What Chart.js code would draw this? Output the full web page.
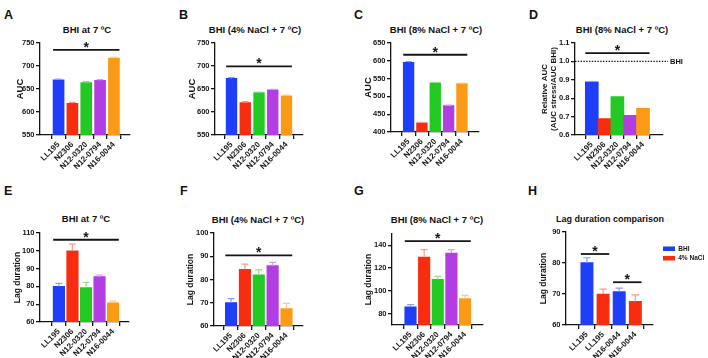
<!DOCTYPE html>
<html><head><meta charset="utf-8">
<script src="https://cdn.jsdelivr.net/npm/chart.js@4.4.1/dist/chart.umd.min.js"></script>
<style>
html,body{margin:0;padding:0;background:#fff;}
body{width:708px;height:358px;position:relative;overflow:hidden;font-family:'Liberation Sans',Arial,Helvetica,sans-serif;color:#111;}
canvas{position:absolute;}
.lt{position:absolute;font-weight:bold;font-size:12.5px;line-height:1;}
.tt{position:absolute;font-weight:bold;font-size:9.5px;line-height:1;white-space:nowrap;transform:translate(-50%,-50%);}
</style></head><body>
<div class="lt" style="left:4px;top:9px">A</div>
<div class="lt" style="left:179px;top:9px">B</div>
<div class="lt" style="left:354px;top:9px">C</div>
<div class="lt" style="left:529px;top:9px">D</div>
<div class="lt" style="left:4px;top:185px">E</div>
<div class="lt" style="left:180px;top:185px">F</div>
<div class="lt" style="left:354px;top:185px">G</div>
<div class="lt" style="left:528px;top:185px">H</div>
<div class="tt" style="left:87px;top:30px">BHI at 7 ºC</div>
<div class="tt" style="left:255px;top:30px">BHI (4% NaCl + 7 ºC)</div>
<div class="tt" style="left:436px;top:30px">BHI (8% NaCl + 7 ºC)</div>
<div class="tt" style="left:622px;top:30px">BHI (8% NaCl + 7 ºC)</div>
<div class="tt" style="left:86px;top:219px">BHI at 7 ºC</div>
<div class="tt" style="left:258px;top:220px">BHI (4% NaCl + 7 ºC)</div>
<div class="tt" style="left:437px;top:220px">BHI (8% NaCl + 7 ºC)</div>
<div class="tt" style="left:610px;top:219px;font-size:9px">Lag duration comparison</div>
<canvas id="cA"></canvas><canvas id="cB"></canvas><canvas id="cC"></canvas><canvas id="cD"></canvas>
<canvas id="cE"></canvas><canvas id="cF"></canvas><canvas id="cG"></canvas><canvas id="cH"></canvas>
<script>
// ---------------- data ----------------
const strains = ["LL195", "N2306", "N12-0320", "N12-0794", "N16-0044"];
const compCategories = ["LL195", "LL195", "N16-0044", "N16-0044"];

const aucBHI7 = [670, 619, 664, 669, 717];
const aucBHI7Err = [1.5, 2, 2, 1.5, 2];
const aucNaCl4 = [673, 620.5, 642, 648, 635];
const aucNaCl4Err = [2, 2, 1.2, 1.5, 1.5];
const aucNaCl8 = [596, 425.5, 538, 474, 536];
const aucNaCl8Err = [2, 1.5, 1.5, 1.5, 1.5];
const relAUC = [0.889, 0.689, 0.809, 0.707, 0.745];

const lagBHI7 = [80, 100, 79.4, 85.5, 70.8];
const lagBHI7Err = [1.7, 3.8, 2.8, 0.9, 0.9];
const lagNaCl4 = [70.1, 84.4, 82, 86, 67.5];
const lagNaCl4Err = [1.7, 2.2, 2.1, 1.4, 2.2];
const lagNaCl8 = [85.9, 129.8, 110.1, 133.3, 93.2];
const lagNaCl8Err = [2, 6.4, 2.7, 2.9, 2.9];

const compBHIIdx = [0, 2];
const compBHI = [80.1, 70.8];
const compBHIErr = [1.6, 1.1];
const compNaClIdx = [1, 3];
const compNaCl = [70.0, 67.6];
const compNaClErr = [1.6, 2.1];

const ticksAUC = [550, 600, 650, 700, 750];
const ticksAUC8 = [400, 450, 500, 550, 600, 650];
const ticksRel = [0.6, 0.7, 0.8, 0.9, 1.0, 1.1];
const ticksLagE = [60, 70, 80, 90, 100, 110];
const ticksLagF = [60, 70, 80, 90, 100];
const ticksLagG = [80, 100, 120, 140];
const ticksLagH = [60, 70, 80, 90];

// significance bars: [first bar index, last bar index, y value]
const sigA = [[0, 4, 735]];
const sigB = [[0, 4, 699]];
const sigC = [[0, 4, 617]];
const sigD = [[0, 4, 1.045]];
const sigE = [[0, 4, 106.2]];
const sigF = [[0, 4, 90.4]];
const sigG = [[0, 4, 143.8]];
const sigH = [[0, 1, 82.9], [2, 3, 73.8]];
const refLineD = 1.0;

// ---------------- styles ----------------
const FONT = "'Liberation Sans', Arial, Helvetica, sans-serif";
Chart.defaults.font.family = FONT;
Chart.defaults.color = '#111';
const INK = '#151515';
const strainColors = ['#1e3ef8', '#f82d0f', '#22c922', '#b23ee3', '#fb9a15'];
const strainErrColors = ['#8e9cfb', '#fb9a8c', '#8fe08f', '#d79df0', '#fccb8a'];

const errorBarsPlugin = {
  id: 'errorBars',
  afterDatasetsDraw(chart) {
    const ctx = chart.ctx, ys = chart.scales.y;
    chart.data.datasets.forEach((ds, di) => {
      if (!ds.errors) return;
      const meta = chart.getDatasetMeta(di);
      meta.data.forEach((bar, i) => {
        const v = ds.data[i].y, e = ds.errors[i];
        const base = ys.getPixelForValue(v), top = ys.getPixelForValue(v + e);
        const hw = bar.width * 0.3;
        const col = Array.isArray(ds.errColors) ? ds.errColors[i % ds.errColors.length] : ds.errColors;
        ctx.save();
        ctx.strokeStyle = col; ctx.lineWidth = 1.2;
        ctx.beginPath();
        ctx.moveTo(bar.x, base); ctx.lineTo(bar.x, top);
        ctx.moveTo(bar.x - hw, top); ctx.lineTo(bar.x + hw, top);
        ctx.stroke();
        ctx.restore();
      });
    });
  }
};

const sigPlugin = {
  id: 'sig',
  afterDraw(chart, args, opts) {
    const ctx = chart.ctx, ys = chart.scales.y, area = chart.chartArea;
    const byIdx = {};
    chart.data.datasets.forEach((ds, di) => {
      chart.getDatasetMeta(di).data.forEach((el, i) => { byIdx[ds.data[i].x] = el; });
    });
    if (opts.ref !== undefined && opts.ref !== null) {
      const y = ys.getPixelForValue(opts.ref);
      ctx.save();
      ctx.strokeStyle = INK; ctx.lineWidth = 1.1; ctx.setLineDash([1.4, 1.4]);
      ctx.beginPath(); ctx.moveTo(area.left, y); ctx.lineTo(area.right + 5, y); ctx.stroke();
      ctx.setLineDash([]);
      ctx.fillStyle = INK; ctx.font = 'bold 7.5px ' + FONT; ctx.textBaseline = 'middle'; ctx.textAlign = 'left';
      ctx.fillText(opts.refLabel, area.right + 7, y + 0.5);
      ctx.restore();
    }
    (opts.lines || []).forEach(([a, b, v]) => {
      const ea = byIdx[a], eb = byIdx[b];
      const x1 = ea.x - ea.width / 2, x2 = eb.x + eb.width / 2;
      const y = ys.getPixelForValue(v);
      ctx.save();
      ctx.strokeStyle = INK; ctx.lineWidth = 1.8;
      ctx.beginPath(); ctx.moveTo(x1, y); ctx.lineTo(x2, y); ctx.stroke();
      ctx.fillStyle = INK; ctx.font = 'bold 14px ' + FONT; ctx.textAlign = 'center'; ctx.textBaseline = 'alphabetic';
      ctx.fillText('*', (x1 + x2) / 2, y + 2);
      ctx.restore();
    });
  }
};

const legendShift = {
  id: 'legendShift',
  afterUpdate(chart, args, opts) {
    if (chart.legend && opts.dx !== undefined) {
      chart.legend.left += opts.dx;
      chart.legend.top += opts.dy;
      chart.legend.right = chart.width;
      chart.legend.bottom = chart.height;
    }
  }
};

function strainDataset(label, vals, errs, barW) {
  return {
    label: label,
    data: vals.map((v, i) => ({ x: i, y: v })),
    backgroundColor: strainColors,
    errors: errs,
    errColors: strainErrColors,
    barThickness: barW,
    grouped: false
  };
}

function makePanel(id, o) {
  const cv = document.getElementById(id);
  const [L, T, R, B] = o.box;
  const [cl, ct, cr, cb] = o.area;
  const W = R - L, H = B - T;
  cv.width = W; cv.height = H;
  cv.style.left = L + 'px'; cv.style.top = T + 'px';
  cv.style.width = W + 'px'; cv.style.height = H + 'px';
  const legendW = o.legend ? o.legend.maxWidth : 0;
  return new Chart(cv, {
    type: 'bar',
    data: { datasets: o.datasets },
    options: {
      responsive: false, animation: false, devicePixelRatio: 1,
      layout: { padding: { left: 0, top: ct - T, right: R - cr - legendW, bottom: 0 } },
      plugins: {
        legend: o.legend || { display: false },
        tooltip: { enabled: false },
        sig: { lines: o.sig, ref: o.ref, refLabel: o.refLabel },
        legendShift: o.legendShift || {}
      },
      scales: {
        x: {
          type: 'linear', min: o.xRange[0], max: o.xRange[1],
          afterBuildTicks: s => { s.ticks = o.categories.map((c, i) => ({ value: i })); },
          afterFit: s => { s.height = B - cb; },
          ticks: {
            autoSkip: false, minRotation: 45, maxRotation: 45, padding: 1,
            font: { size: 8, weight: 'bold' }, color: INK,
            callback: v => o.categories[v]
          },
          grid: { display: true, drawOnChartArea: false, drawTicks: true, tickLength: 4, color: INK, lineWidth: 1.3 },
          border: { display: true, color: INK, width: 1.3 }
        },
        y: {
          min: o.yRange[0], max: o.yRange[1],
          afterBuildTicks: s => { s.ticks = o.yTicks.map(v => ({ value: v })); },
          afterFit: s => { s.width = cl - L; },
          ticks: {
            padding: 1.5, font: { size: 7.5, weight: 'bold' }, color: INK,
            callback: o.yFmt || (v => String(v))
          },
          grid: { display: true, drawOnChartArea: false, drawTicks: true, tickLength: 4, color: INK, lineWidth: 1.3 },
          border: { display: true, color: INK, width: 1.3 },
          title: {
            display: true, text: o.yTitle, color: INK,
            font: { size: o.yTitleSize, weight: 'bold', lineHeight: o.yTitleLH || 1.2 },
            padding: { top: o.yTitlePad, bottom: 0 }
          }
        }
      }
    },
    plugins: [errorBarsPlugin, sigPlugin, legendShift]
  });
}

makePanel('cA', {
  box: [0, 34, 175, 176], area: [40, 43, 130, 135], xRange: [-0.69, 4.51],
  categories: strains, datasets: [strainDataset('AUC', aucBHI7, aucBHI7Err, 11)],
  yRange: [550, 750], yTicks: ticksAUC, yTitle: 'AUC', yTitleSize: 9.5, yTitlePad: 14.3, sig: sigA
});
makePanel('cB', {
  box: [175, 34, 350, 176], area: [215, 43, 303, 135], xRange: [-0.56, 4.56],
  categories: strains, datasets: [strainDataset('AUC', aucNaCl4, aucNaCl4Err, 10.7)],
  yRange: [550, 750], yTicks: ticksAUC, yTitle: 'AUC', yTitleSize: 9.5, yTitlePad: 11.3, sig: sigB
});
makePanel('cC', {
  box: [350, 34, 525, 176], area: [391, 43, 479, 132], xRange: [-0.66, 4.62],
  categories: strains, datasets: [strainDataset('AUC', aucNaCl8, aucNaCl8Err, 10.7)],
  yRange: [400, 650], yTicks: ticksAUC8, yTitle: 'AUC', yTitleSize: 9.5, yTitlePad: 12.3, sig: sigC
});
makePanel('cD', {
  box: [525, 34, 708, 176], area: [575, 43, 663, 135], xRange: [-0.625, 4.875],
  categories: strains, datasets: [strainDataset('Relative AUC', relAUC, null, 13)],
  yRange: [0.6, 1.1], yTicks: ticksRel, yFmt: v => v.toFixed(1),
  yTitle: ['Relative AUC', '(AUC stress/AUC BHI)'], yTitleSize: 8, yTitleLH: 1.1, yTitlePad: 15.4,
  sig: sigD, ref: refLineD, refLabel: 'BHI'
});
makePanel('cE', {
  box: [0, 224, 175, 358], area: [40, 233, 129, 322], xRange: [-0.74, 4.52],
  categories: strains, datasets: [strainDataset('Lag duration', lagBHI7, lagBHI7Err, 11.5)],
  yRange: [60, 110], yTicks: ticksLagE, yTitle: 'Lag duration', yTitleSize: 8.5, yTitlePad: 12.9, sig: sigE
});
makePanel('cF', {
  box: [175, 224, 350, 358], area: [214, 233, 303, 326], xRange: [-0.59, 4.55],
  categories: strains, datasets: [strainDataset('Lag duration', lagNaCl4, lagNaCl4Err, 11.5)],
  yRange: [60, 100], yTicks: ticksLagF, yTitle: 'Lag duration', yTitleSize: 8.5, yTitlePad: 10.9, sig: sigF
});
makePanel('cG', {
  box: [350, 224, 525, 358], area: [392, 234, 483, 325], xRange: [-0.69, 4.65],
  categories: strains, datasets: [strainDataset('Lag duration', lagNaCl8, lagNaCl8Err, 11.5)],
  yRange: [70, 150], yTicks: ticksLagG, yTitle: 'Lag duration', yTitleSize: 8.5, yTitlePad: 13.9, sig: sigG
});
makePanel('cH', {
  box: [525, 224, 708, 358], area: [566, 232, 653, 325], xRange: [-0.625, 3.42],
  categories: compCategories,
  datasets: [
    { label: 'BHI', data: compBHIIdx.map((x, i) => ({ x: x, y: compBHI[i] })), backgroundColor: strainColors[0],
      errors: compBHIErr, errColors: strainErrColors[0], barThickness: 12.3, grouped: false },
    { label: '4% NaCl', data: compNaClIdx.map((x, i) => ({ x: x, y: compNaCl[i] })), backgroundColor: strainColors[1],
      errors: compNaClErr, errColors: strainErrColors[1], barThickness: 12.3, grouped: false }
  ],
  yRange: [60, 90], yTicks: ticksLagH, yTitle: 'Lag duration', yTitleSize: 8.5, yTitlePad: 13.9, sig: sigH,
  legend: { display: true, position: 'right', align: 'start', maxWidth: 40,
    labels: { boxWidth: 12, boxHeight: 4.5, padding: 3, color: INK, font: { size: 6.5, weight: 'bold', lineHeight: 1 } } },
  legendShift: { dx: 7, dy: 10.5 }
});
</script>
</body></html>
